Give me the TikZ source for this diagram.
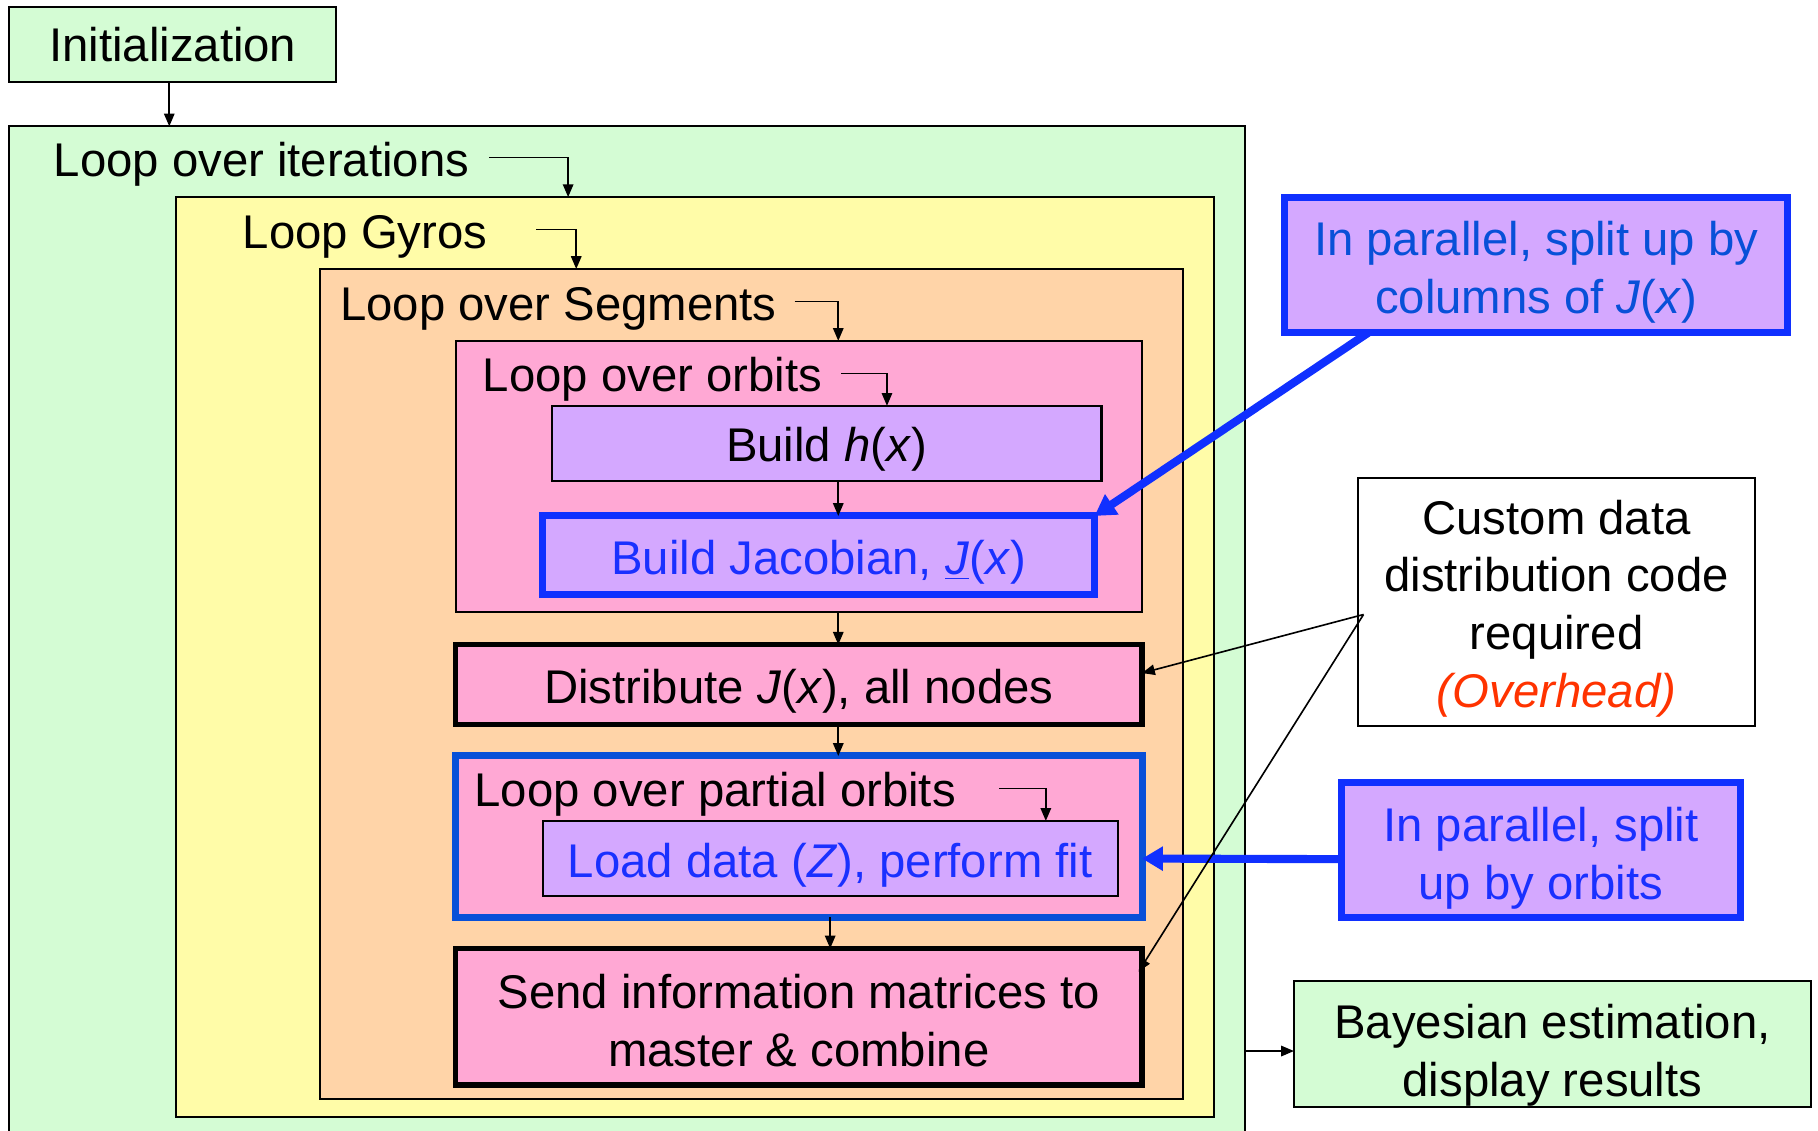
\documentclass[tikz,border=0pt]{standalone}
\usepackage{fontspec}
\setmainfont{Liberation Sans}
\usetikzlibrary{arrows.meta,fit,calc}

\definecolor{grn}{RGB}{212,252,212}
\definecolor{ylw}{RGB}{255,252,168}
\definecolor{org}{RGB}{255,212,168}
\definecolor{pnk}{RGB}{255,168,212}
\definecolor{prp}{RGB}{212,168,255}
\definecolor{brightblue}{RGB}{16,48,255}
\definecolor{deepblue}{RGB}{8,80,216}
\definecolor{txtblue}{RGB}{26,48,255}
\definecolor{ovhd}{RGB}{255,51,0}

\begin{document}
\begin{tikzpicture}[x=0.5pt,y=-0.5pt,
  every node/.style={font=\fontsize{20.4}{25}\selectfont, align=center},
  box/.style={draw, line width=0.9pt, inner sep=0pt, outer sep=0pt},
  heavy/.style={draw, line width=2.4pt, inner sep=0pt, outer sep=0pt},
  bluebox/.style={draw=brightblue, line width=3pt, inner sep=0pt, outer sep=0pt},
  txt/.style={inner sep=0pt},
  lbl/.style={inner sep=0pt, anchor=base west},
  arr/.style={line width=0.7pt, -{Triangle[length=5.5pt,width=4.5pt]}},
  bluearr/.style={draw=brightblue, line width=3.5pt, -{Triangle[length=9pt,width=10pt]}},
]
\path[use as bounding box] (0,0) rectangle (1568,975);
\clip (0,0) rectangle (1568,975);

% nested loop containers
\node[box, fill=grn, fit={(8,6)(290,71)}] (init) {};
\node[box, fill=grn, fit={(8,109)(1074,995)}] (outer) {};
\node[box, fill=ylw, fit={(152,170)(1047,963)}] (yb) {};
\node[box, fill=org, fit={(276,232)(1020,948)}] (ob) {};
\node[box, fill=pnk, fit={(393,294)(985,528)}] (lo) {};

% steps inside the segment loop
\node[box, fill=prp, fit={(476,350)(950,415)}] (hx) {};
\node[bluebox, fill=prp, fit={(468,445)(944,513)}] (bj) {};
\node[heavy, fill=pnk, fit={(393,556)(985,625)}] (dist) {};
\node[bluebox, draw=deepblue, fill=pnk, fit={(393,652)(985,791)}] (lp) {};
\node[box, fill=prp, fit={(468,708)(964,773)}] (ld) {};
\node[heavy, fill=pnk, fit={(393,818)(985,936)}] (send) {};

% side notes
\node[bluebox, fill=prp, fit={(1108,170)(1542,287)}] (par1) {};
\node[box, fill=white, fit={(1171,412)(1514,626)}] (cd) {};
\node[bluebox, fill=prp, fit={(1157,675)(1501,791)}] (par2) {};
\node[box, fill=grn, fit={(1116,846)(1562,955)}] (bay) {};

% box texts
\node[txt] (initt) at (init.center) {Initialization};
\node[txt] (hxt) at ($(hx.center)+(0,5)$) {Build \textit{h}(\textit{x})};
\node[txt, text=txtblue] (bjt) at ($(bj.center)+(0,6)$) {Build Jacobian, \underline{\textit{J}}(\textit{x})};
\node[txt] (distt) at ($(dist.center)+(0,6)$) {Distribute \textit{J}(\textit{x}), all nodes};
\node[txt, text=txtblue] (ldt) at ($(ld.center)+(0,6)$) {Load data (\textit{Z}), perform fit};
\node[txt] (sendt) at ($(send.center)+(0,3)$) {Send information matrices to\\master \& combine};
\node[txt, text=deepblue] (par1t) at ($(par1.center)+(0,6)$) {In parallel, split up by\\columns of \textit{J}(\textit{x})};
\node[txt] (cdt) at ($(cd.center)+(0,6)$) {Custom data\\distribution code\\required\\{\color{ovhd}\textit{(Overhead)}}};
\node[txt, text=txtblue] (par2t) at ($(par2.center)+(0,7)$) {In parallel, split\\up by orbits};
\node[txt] (bayt) at ($(bay.center)+(0,10)$) {Bayesian estimation,\\display results};

% loop labels
\node[lbl] (titer) at (46,152) {Loop over iterations};
\node[lbl] (tgyr) at (209,214) {Loop Gyros};
\node[lbl] (tseg) at (293,276) {Loop over Segments};
\node[lbl] (torb) at (416,338) {Loop over orbits};
\node[lbl] (tpart) at (409,696) {Loop over partial orbits};

% flow arrows
\coordinate (initfoot) at ($(init.south)+(-3,1)$);
\draw[arr] (initfoot) -- (initfoot |- outer.north);
\draw[arr] ($(titer.base east)+(17,-16)$) -| ($(yb.north west)+(338,0)$);
\draw[arr] ($(tgyr.base east)+(42,-16)$) -| ($(ob.north west)+(221,0)$);
\coordinate (spine) at (723,0);
\coordinate (spinetwo) at (716,0);
\draw[arr] ($(tseg.base east)+(15,-16)$) -| (spine |- lo.north);
\draw[arr] ($(torb.base east)+(16,-16)$) -| ($(hx.north west)+(289,0)$);
\draw[arr] ($(tpart.base east)+(37,-16)$) -| ($(ld.north west)+(434,0)$);
\draw[arr] (spine |- hx.south) -- (spine |- bj.north);
\draw[arr] (spine |- lo.south) -- (spine |- dist.north);
\draw[arr] (spine |- dist.south) -- (spine |- lp.north);
\draw[arr] (spinetwo |- lp.south) -- (spinetwo |- send.north);
\draw[arr] ($(outer.east |- bay.west)+(0,6)$) -- ($(bay.west)+(0,6)$);

% note pointers
\draw[bluearr] ($(par1.south west)!0.166!(par1.south east)$) -- (bj.north east);
\draw[bluearr] ($(par2.west)+(0,8)$) -- (lp.east |- ld.center);
\coordinate (cdsrc) at ($(cd.west)+(5,11)$);
\draw[arr] (cdsrc) -- ($(dist.east)+(0,-10)$);
\draw[arr] (cdsrc) -- ($(send.north east)+(-3,20)$);
\end{tikzpicture}
\end{document}
